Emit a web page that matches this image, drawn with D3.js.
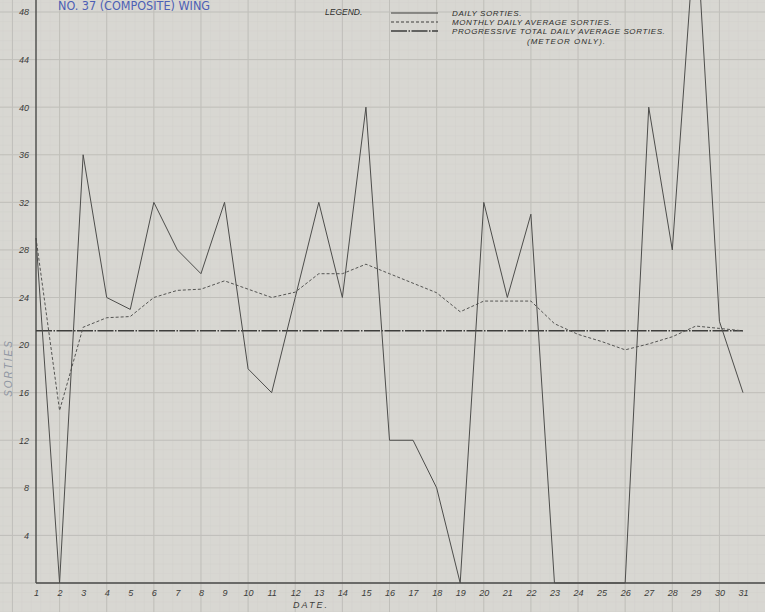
<!DOCTYPE html>
<html><head><meta charset="utf-8">
<script src="https://cdn.jsdelivr.net/npm/d3@7"></script>
<style>html,body{margin:0;padding:0;background:#d8d7d2;overflow:hidden}</style>
</head><body><svg id="c" width="765" height="612"></svg>
<script>
const days = d3.range(1, 32);
const dailySorties = [29,0,36,24,23,32,28,26,32,18,16,24,32,24,40,12,12,8,0,32,24,31,0,0,0,0,40,28,56,22,16];
const monthlyAverage = [29,14.5,21.5,22.3,22.4,24,24.6,24.7,25.4,24.7,24,24.45,26,26,26.8,26,25.2,24.4,22.8,23.7,23.7,23.7,21.8,20.9,20.3,19.6,20.1,20.7,21.6,21.4,21.2];
const progressiveAverage = days.map(() => 21.2);
const yTicks = [4,8,12,16,20,24,28,32,36,40,44,48];
const xTickLabels = days.map(String);
const legendItems = ["DAILY SORTIES.", "MONTHLY DAILY AVERAGE SORTIES.", "PROGRESSIVE TOTAL DAILY AVERAGE SORTIES."];

const W = 765, H = 612;
const svg = d3.select("#c");
const x = d3.scaleLinear().domain([1, 31]).range([36, 743]);
const y = d3.scaleLinear().domain([0, 48]).range([583, 12]);

svg.append("rect").attr("width", W).attr("height", H).attr("fill", "#d8d7d2");

// graph-paper grid (minor then major), covering the whole sheet
const g = svg.append("g");
const xmin = x.invert(0), xmax = x.invert(W), ymin = y.invert(H), ymax = y.invert(0);
const minorX = d3.range(Math.floor(xmin / 0.4) * 0.4, xmax, 0.4);
const minorY = d3.range(Math.floor(ymin / 0.8) * 0.8, ymax, 0.8);
g.selectAll(".mx").data(minorX).join("line").attr("x1", d => x(d)).attr("x2", d => x(d)).attr("y1", 0).attr("y2", H).attr("stroke", "#d2d1cc").attr("stroke-width", 0.5);
g.selectAll(".my").data(minorY).join("line").attr("y1", d => y(d)).attr("y2", d => y(d)).attr("x1", 0).attr("x2", W).attr("stroke", "#d2d1cc").attr("stroke-width", 0.5);
const majorX = d3.range(Math.floor(xmin / 2) * 2, xmax, 2);
const majorY = d3.range(Math.floor(ymin / 4) * 4, ymax, 4);
g.selectAll(".Mx").data(majorX).join("line").attr("x1", d => x(d)).attr("x2", d => x(d)).attr("y1", 0).attr("y2", H).attr("stroke", "#c0bfba").attr("stroke-width", 1);
g.selectAll(".My").data(majorY).join("line").attr("y1", d => y(d)).attr("y2", d => y(d)).attr("x1", 0).attr("x2", W).attr("stroke", "#c0bfba").attr("stroke-width", 1);

// axes
const hand = "Liberation Sans, sans-serif";
const axY = svg.append("g").attr("transform", `translate(${x(1)},0)`)
  .call(d3.axisLeft(y).tickValues(yTicks).tickSize(0).tickPadding(7).tickFormat(d3.format("d")));
axY.select(".domain").attr("d", `M0,0V${y(0)}`).attr("stroke", "#4a4a48").attr("stroke-width", 1.4);
axY.selectAll("text").attr("font-family", hand).attr("font-style", "italic").attr("font-size", 9).attr("fill", "#3c3c3a");

const axX = svg.append("g").attr("transform", `translate(0,${y(0)})`)
  .call(d3.axisBottom(x).tickValues(days).tickSize(0).tickPadding(7).tickFormat((d, i) => xTickLabels[i]));
axX.select(".domain").attr("d", `M${x(1)},0H${W}`).attr("stroke", "#4a4a48").attr("stroke-width", 1.4);
axX.selectAll("text").attr("font-family", hand).attr("font-style", "italic").attr("font-size", 9).attr("fill", "#3c3c3a");

// series
const line = d3.line().x((d, i) => x(days[i])).y(d => y(d));
svg.append("path").datum(progressiveAverage).attr("d", line).attr("fill", "none").attr("stroke", "#3e3e3c").attr("stroke-width", 1.6).attr("stroke-dasharray", "16,1.5,1.5,1.5");
svg.append("path").datum(monthlyAverage).attr("d", line).attr("fill", "none").attr("stroke", "#555553").attr("stroke-width", 1).attr("stroke-dasharray", "3,2");
svg.append("path").datum(dailySorties).attr("d", line).attr("fill", "none").attr("stroke", "#4d4d4b").attr("stroke-width", 1);

// labels
svg.append("text").attr("x", 12).attr("y", 368).attr("transform", "rotate(-90,12,368)").attr("text-anchor", "middle")
  .attr("font-family", hand).attr("font-style", "italic").attr("font-size", 10).attr("letter-spacing", 2).attr("fill", "#8f96a3").text("SORTIES");
svg.append("text").attr("x", 311).attr("y", 608).attr("text-anchor", "middle")
  .attr("font-family", hand).attr("font-style", "italic").attr("font-size", 9).attr("letter-spacing", 2).attr("fill", "#3c3c3a").text("DATE.");
svg.append("text").attr("x", 58).attr("y", 10).attr("font-family", "DejaVu Sans Condensed, DejaVu Sans, sans-serif").attr("font-size", 12)
  .attr("textLength", 152).attr("lengthAdjust", "spacingAndGlyphs").attr("fill", "#4d5fb5").text("NO. 37 (COMPOSITE) WING");

// legend
const lg = svg.append("g");
lg.append("text").attr("x", 325).attr("y", 15).attr("font-family", hand).attr("font-style", "italic").attr("font-size", 8.5).attr("fill", "#2e2e2c").text("LEGEND.");
const dashes = [null, "3,2", "16,1.5,1.5,1.5"];
const ly = [13, 22, 31];
legendItems.forEach((t, i) => {
  lg.append("line").attr("x1", 391).attr("x2", 438).attr("y1", ly[i]).attr("y2", ly[i]).attr("stroke", "#3e3e3c").attr("stroke-width", i === 2 ? 1.3 : 1).attr("stroke-dasharray", dashes[i]);
  lg.append("text").attr("x", 452).attr("y", ly[i] + 3).attr("font-family", hand).attr("font-style", "italic").attr("font-size", 8).attr("letter-spacing", 0.6).attr("fill", "#2e2e2c").text(t);
});
lg.append("text").attr("x", 527).attr("y", 44).attr("font-family", hand).attr("font-style", "italic").attr("font-size", 8).attr("letter-spacing", 1).attr("fill", "#2e2e2c").text("(METEOR ONLY).");
</script></body></html>
